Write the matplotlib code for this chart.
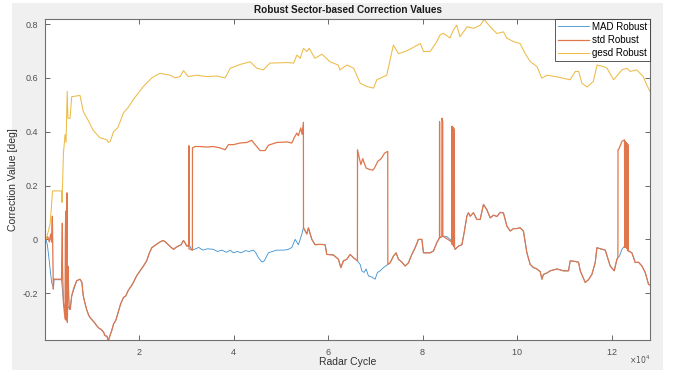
import numpy as np
import matplotlib
matplotlib.use("Agg")
import matplotlib.pyplot as plt
from matplotlib.patches import Rectangle
from matplotlib.ticker import FormatStrFormatter, ScalarFormatter

plt.rcParams['font.family'] = ['Liberation Sans', 'DejaVu Sans']

# MAD robust correction per radar cycle
mad_cycle = [300, 600, 1000, 1500, 1900, 2000, 3600, 4000, 4400, 4600, 5000, 5400, 5750, 6800,
             7500, 7900, 8200, 8600, 8900, 9300, 9600, 10100, 10600, 11000, 11500, 12000, 12500,
             12800, 13200, 13500, 13800, 14200, 14600, 15100, 15600, 16100, 16700, 17200, 17700,
             18300, 18800, 19500, 20200, 20900, 21600, 22200, 22700, 23200, 23700, 24400, 25100,
             25600, 26200, 26800, 27300, 27800, 28300, 28900, 29400, 29800, 30100, 30600, 31200,
             32000, 32600, 33500, 34500, 35700, 36600, 37500, 38500, 39300, 39950, 40800, 41600,
             42500, 43300, 44200, 44700, 45250, 45970, 46500, 47370, 48200, 49140, 50500, 51500,
             52320, 53020, 53710, 54430, 54770, 55500, 55830, 56550, 57250, 58310, 59370, 59720,
             61120, 62180, 62690, 63240, 63960, 64660, 65350, 66200, 66770, 67130, 67620, 68040,
             68530, 69250, 69950, 70430, 71010, 71700, 72630, 73120, 73820, 74390, 74870, 75600,
             76300, 77000, 77710, 78410, 79110, 79830, 80170, 81590, 82290, 83000, 83560, 84400,
             85120, 85820, 86240, 86880, 87580, 88300, 88780, 89350, 89690, 90050, 90750, 91470,
             92170, 92870, 93590, 94290, 95000, 95700, 96400, 97100, 97820, 98520, 99220, 99940,
             100640, 101330, 102050, 102750, 103450, 104170, 104870, 105230, 105560, 106290,
             106980, 108400, 109800, 110860, 111220, 112280, 112980, 113340, 114390, 115090,
             115810, 116510, 116870, 117570, 118630, 119680, 120530, 121100, 121310, 121650,
             122160, 122710, 123430, 123560, 124270, 124970, 125670, 126390, 127090, 127790, 128150]
mad_value = [0.0, -0.02, -0.08, -0.16, -0.18, -0.15, -0.15, -0.23, -0.28, -0.27, -0.25, -0.26,
             -0.21, -0.154, -0.148, -0.16, -0.21, -0.24, -0.26, -0.28, -0.29, -0.30, -0.31, -0.32,
             -0.33, -0.335, -0.345, -0.358, -0.36, -0.377, -0.36, -0.34, -0.315, -0.30, -0.27,
             -0.24, -0.216, -0.21, -0.19, -0.175, -0.16, -0.135, -0.117, -0.10, -0.08, -0.05,
             -0.031, -0.025, -0.0185, -0.01, -0.004, -0.01, -0.02, -0.03, -0.037, -0.03, -0.025,
             -0.02, -0.004, -0.015, -0.025, -0.02, -0.04, -0.035, -0.03, -0.04, -0.035, -0.037,
             -0.045, -0.04, -0.048, -0.04, -0.05, -0.045, -0.05, -0.042, -0.045, -0.04, -0.05,
             -0.068, -0.084, -0.08, -0.05, -0.045, -0.04, -0.04, -0.038, -0.03, 0.0, -0.02, 0.019,
             0.043, 0.02, 0.043, 0.0, -0.02, -0.0185, -0.02, -0.056, -0.058, -0.074, -0.105, -0.08,
             -0.074, -0.056, -0.068, -0.08, -0.093, -0.117, -0.123, -0.11, -0.136, -0.14, -0.148,
             -0.123, -0.117, -0.105, -0.093, -0.087, -0.062, -0.05, -0.074, -0.085, -0.099, -0.087,
             -0.056, -0.031, 0.0, 0.0, -0.05, -0.05, -0.043, -0.012, 0.006, 0.012, 0.01, 0.0,
             -0.01, -0.037, -0.025, -0.02, 0.025, 0.086, 0.099, 0.086, 0.099, 0.074, 0.074, 0.13,
             0.11, 0.08, 0.09, 0.085, 0.1, 0.098, 0.049, 0.031, 0.04, 0.04, 0.043, 0.03, -0.05,
             -0.093, -0.105, -0.11, -0.12, -0.148, -0.13, -0.125, -0.117, -0.11, -0.117, -0.117,
             -0.08, -0.082, -0.085, -0.117, -0.16, -0.15, -0.13, -0.086, -0.031, -0.035, -0.04,
             -0.099, -0.117, -0.074, -0.068, -0.062, -0.037, -0.025, -0.03, -0.043, -0.05, -0.086,
             -0.085, -0.099, -0.123, -0.167, -0.17]

# std robust: follows MAD except in these stretches
std_start_cycle = [300, 700, 1000, 1300, 1500, 1650, 1750, 1860, 1950, 3600, 3700, 3770, 3800,
                   4000, 4200, 4340, 4400, 4480, 4550, 4600, 4760, 4830, 4970, 5100, 5260, 5450,
                   5750, 6200, 6800, 7500]
std_start_value = [0.0, 0.01, -0.01, 0.02, -0.01, 0.086, -0.05, -0.185, -0.148, -0.148, -0.05,
                   0.06, -0.1, -0.235, -0.27, -0.296, 0.0, 0.105, -0.30, -0.2, 0.173, -0.309,
                   -0.10, -0.2, -0.26, -0.26, -0.21, -0.18, -0.154, -0.148]
std_jump1_cycle = [30520, 30540, 30560, 31280, 31300, 31850, 32910, 34330, 35720, 37140, 38200,
                   38900, 39960, 41380, 42790, 43850, 44550, 45610, 46670, 47370, 49140, 51260,
                   52320, 52800, 53380, 53710, 54220, 54500, 54770, 54790]
std_jump1_value = [-0.025, 0.348, -0.035, -0.04, 0.34, 0.345, 0.345, 0.343, 0.345, 0.34, 0.333,
                   0.352, 0.352, 0.358, 0.36, 0.368, 0.352, 0.33, 0.33, 0.35, 0.36, 0.362, 0.358,
                   0.377, 0.395, 0.385, 0.414, 0.39, 0.435, 0.043]
std_jump2_cycle = [66200, 66220, 66500, 66920, 67340, 67700, 68040, 68750, 69460, 69800, 70520,
                   71220, 71930, 72610, 72630]
std_jump2_value = [-0.08, 0.333, 0.31, 0.278, 0.30, 0.28, 0.265, 0.26, 0.257, 0.265, 0.29, 0.30,
                   0.32, 0.327, -0.093]
std_spike_cycle = [83560, 83580, 83600, 84060, 84080, 84200, 84250, 84270, 86180, 86200, 86260,
                   86300, 86360, 86400, 86460, 86500, 86560, 86600, 86660, 86700, 86740]
std_spike_value = [0.006, 0.438, 0.006, 0.01, 0.45, 0.44, 0.44, 0.012, -0.01, 0.42, -0.02, 0.42,
                   -0.02, 0.415, -0.02, 0.415, -0.025, 0.41, -0.025, 0.41, -0.03]
std_jump3_cycle = [121310, 121330, 121500, 122160, 122710, 122760, 122820, 122880, 122940,
                   123000, 123060, 123120, 123180, 123240, 123300, 123360, 123430, 123450]
std_jump3_value = [-0.068, 0.333, 0.335, 0.364, 0.37, -0.03, 0.365, -0.03, 0.36, -0.03, 0.36,
                   -0.03, 0.355, -0.035, 0.355, -0.04, 0.352, -0.043]

# gesd robust
gesd_cycle = [300, 800, 1200, 1700, 3600, 3700, 4000, 4350, 4550, 4800, 4950, 5400, 5750, 7500,
              8200, 9300, 10300, 11700, 13200, 13500, 13900, 14600, 15500, 16700, 17700, 18800,
              20900, 22700, 24400, 26600, 27600, 28700, 29400, 30400, 32200, 34300, 36400, 38200,
              39300, 41400, 43500, 44900, 46300, 47700, 51300, 52700, 53400, 54100, 54800, 55500,
              56000, 57200, 58700, 60400, 62100, 62500, 64000, 65400, 66800, 68200, 69600, 70300,
              72400, 73800, 74900, 76300, 77700, 79500, 80200, 81600, 83000, 83700, 84400, 85800,
              86500, 87200, 87900, 89400, 90800, 92200, 93000, 94300, 95700, 97100, 97800, 99200,
              100600, 101700, 102800, 104200, 105200, 106300, 108400, 111200, 112300, 113000,
              113700, 114800, 116100, 116900, 118300, 119000, 120400, 122200, 123200, 123900,
              125300, 126700, 127400, 128100]
gesd_value = [0.0, 0.03, 0.06, 0.18, 0.18, 0.137, 0.32, 0.39, 0.36, 0.55, 0.45, 0.45, 0.53, 0.535,
              0.475, 0.44, 0.405, 0.378, 0.37, 0.36, 0.364, 0.40, 0.415, 0.47, 0.49, 0.52, 0.568,
              0.60, 0.617, 0.61, 0.60, 0.605, 0.627, 0.605, 0.61, 0.605, 0.607, 0.60, 0.636, 0.65,
              0.66, 0.636, 0.63, 0.655, 0.657, 0.655, 0.685, 0.673, 0.71, 0.698, 0.71, 0.673,
              0.688, 0.66, 0.648, 0.63, 0.648, 0.636, 0.58, 0.568, 0.562, 0.593, 0.61, 0.722,
              0.69, 0.698, 0.71, 0.728, 0.698, 0.698, 0.735, 0.76, 0.766, 0.748, 0.778, 0.796,
              0.753, 0.79, 0.784, 0.796, 0.817, 0.79, 0.765, 0.771, 0.748, 0.735, 0.728, 0.69,
              0.66, 0.642, 0.599, 0.61, 0.604, 0.593, 0.624, 0.624, 0.58, 0.566, 0.587, 0.648,
              0.642, 0.636, 0.593, 0.63, 0.636, 0.624, 0.63, 0.604, 0.574, 0.55]


def splice(base_x, base_y, seg_x, seg_y):
    bx = np.asarray(base_x, float)
    by = np.asarray(base_y, float)
    keep_lo = bx < seg_x[0]
    keep_hi = bx > seg_x[-1]
    return (np.concatenate([bx[keep_lo], seg_x, bx[keep_hi]]),
            np.concatenate([by[keep_lo], seg_y, by[keep_hi]]))


std_x, std_y = mad_cycle, mad_value
for sx, sy in [(std_start_cycle, std_start_value), (std_jump1_cycle, std_jump1_value),
               (std_jump2_cycle, std_jump2_value), (std_spike_cycle, std_spike_value),
               (std_jump3_cycle, std_jump3_value)]:
    std_x, std_y = splice(std_x, std_y, sx, sy)

fig = plt.figure(figsize=(6.81, 3.70), dpi=100, facecolor='white')
fig.patches.append(Rectangle((12 / 681, 0), 651 / 681, 367 / 370, transform=fig.transFigure,
                             facecolor='#f0f0f0', edgecolor='none', zorder=-10))
ax = fig.add_axes([45 / 681, 30 / 370, 605 / 681, 321.3 / 370])

# std sits on top of MAD and hides it wherever the two agree
ax.plot(mad_cycle, mad_value, color='#3a8fd0', lw=0.6, label='MAD Robust')
ax.plot(std_x, std_y, color='#e0764c', lw=0.9, label='std Robust')
ax.plot(gesd_cycle, gesd_value, color='#ecbb48', lw=0.75, label='gesd Robust')

ax.set_xlim(100, 128100)
ax.set_ylim(-0.374, 0.82)
ax.set_xticks([20000, 40000, 60000, 80000, 100000, 120000])
ax.set_yticks([-0.2, 0, 0.2, 0.4, 0.6, 0.8])
ax.yaxis.set_major_formatter(FormatStrFormatter('%g'))
fmt = ScalarFormatter(useMathText=True)
fmt.set_powerlimits((4, 4))
ax.xaxis.set_major_formatter(fmt)
ax.xaxis.get_offset_text().set_visible(False)
ax.text(1.0, -0.062, r'$\times10^{4}$', transform=ax.transAxes, ha='right', va='center',
        fontsize=5.5, color='#505050')

ax.tick_params(direction='in', top=True, right=True, length=3.5, width=0.6,
               labelsize=6.5, colors='#505050', pad=5)
for s in ax.spines.values():
    s.set_color('#707070')
    s.set_linewidth(0.8)

ax.set_title('Robust Sector-based Correction Values', fontsize=7.2, fontweight='bold',
             color='#1a1a1a', pad=4)
ax.set_xlabel('Radar Cycle', fontsize=7.5, color='#303030', labelpad=0)
ax.set_ylabel('Correction Value [deg]', fontsize=7.5, color='#303030', labelpad=3)

leg = ax.legend(loc='upper right', fontsize=7, frameon=True, fancybox=False,
                borderaxespad=0, handlelength=3.2, handletextpad=0.3, labelspacing=0.35,
                borderpad=0.3)
leg.get_frame().set_edgecolor('#303030')
leg.get_frame().set_linewidth(0.7)

fig.savefig('out.png', dpi=100, facecolor=fig.get_facecolor())
